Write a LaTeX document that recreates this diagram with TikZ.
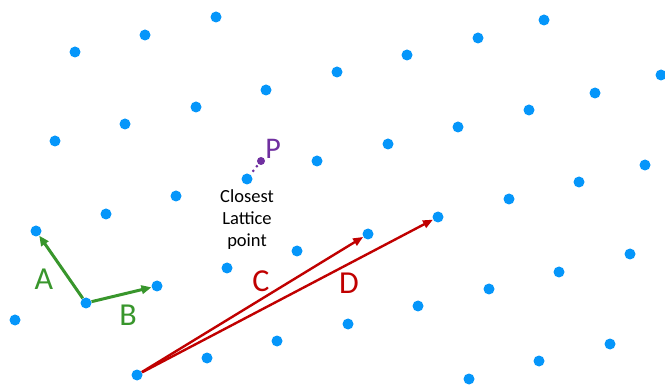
\documentclass[tikz,border=0pt]{standalone}
\usepackage{fontspec}
\setmainfont{Carlito}
\usetikzlibrary{arrows.meta,positioning}
\definecolor{latblue}{RGB}{5,150,250}
\definecolor{basgreen}{RGB}{56,150,44}
\definecolor{vecred}{RGB}{192,0,0}
\definecolor{ppurple}{RGB}{112,48,160}
\tikzset{
  latpt/.style={circle,fill=latblue,inner sep=0pt,minimum size=11pt},
  basis/.style={draw=basgreen,line width=3pt,-{Triangle[length=10pt,width=8.5pt]}},
  longv/.style={draw=vecred,line width=2.4pt,-{Triangle[length=10pt,width=8pt]}},
  big/.style={inner sep=0pt,font=\fontsize{32}{38}\selectfont},
  note/.style={inner sep=0pt,align=center,font=\fontsize{18.5}{22}\selectfont},
}

\begin{document}
\begin{tikzpicture}[x=1pt,y=-1pt]
  \useasboundingbox (0,0) rectangle (665,385);
  % the lattice
  \foreach \x/\y [count=\n] in {75/52,145/35,216/17,
      55/141,125/124,196/107,266/90,337/72,407/55,478/38,544/20,
      106/214,176/196,317/161,388/144,458/127,529/110,595/93,661/75,
      15/320,227/268,297/251,509/199,579/182,645/165,
      207/358,277/341,348/324,418/306,489/289,559/272,630/254,
      469/379,539/361,610/344}
    \node[latpt] (p\n) at (\x,\y) {};
  \node[latpt] (o) at (86,303) {};
  \node[latpt] (a) at (36,231) {};
  \node[latpt] (b) at (157,286) {};
  \node[latpt] (s) at (137,375) {};
  \node[latpt] (c) at (368,234) {};
  \node[latpt] (d) at (438,217) {};
  \node[latpt] (q) at (247,179) {};
  % basis
  \draw[basis] (o) -- (a);
  \draw[basis] (o) -- (b);
  \node[big,basgreen] (la) at (44,279.5) {A};
  \node[big,basgreen] (lb) at (128,315.5) {B};
  % long vectors
  \draw[longv] (s) -- (c);
  \draw[longv] (s) -- (d);
  \node[big,vecred] (lc) at (261,281) {C};
  \node[big,vecred] (ld) at (349,283.5) {D};
  % target point
  \node[circle,fill=ppurple,inner sep=0pt,minimum size=8pt] (p) at (261,161) {};
  \node[inner sep=0pt,ppurple,font=\fontsize{30}{36}\selectfont] (lp) at (273,148.5) {P};
  \draw[ppurple,line width=3pt,line cap=round,dash pattern=on 0pt off 6pt,
    shorten <=2.4pt] (p) -- (q);
  \node[note,below=4.5pt of q] (txt) {Closest\\Lattice\\point};
\end{tikzpicture}
\end{document}
